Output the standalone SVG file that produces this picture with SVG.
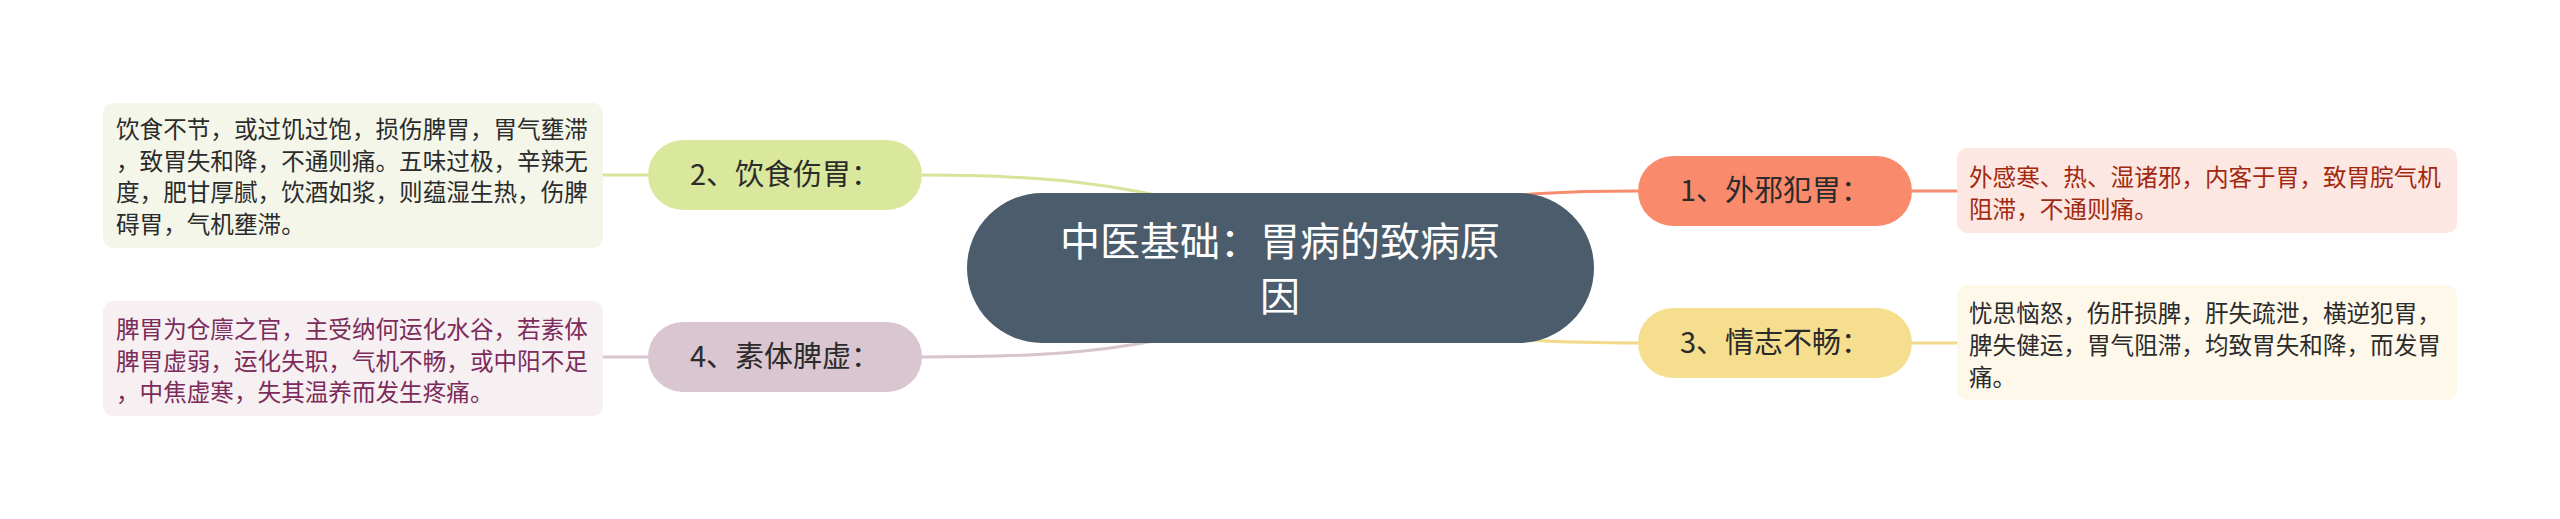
<svg xmlns="http://www.w3.org/2000/svg" width="2560" height="519" viewBox="0 0 2560 519">
<style>
text{font-family:"Noto Sans CJK SC","Noto Sans",sans-serif;}
.lf{font-size:23.6px;}
.br{font-size:29px;fill:#2b2b2b;text-anchor:middle;}
.ct{font-size:40px;fill:#ffffff;text-anchor:middle;}
.c{fill:none;stroke-width:3;}
</style>
<rect width="2560" height="519" fill="#ffffff"/>
<g id="connectors">
<path class="c" stroke="#F68B6E" d="M1280,268 C1400,200 1500,191 1638,191"/>
<path class="c" stroke="#F68B6E" d="M1912,191 L1957,191"/>
<path class="c" stroke="#F3DA8A" d="M1280,268 C1400,336 1500,343 1638,343"/>
<path class="c" stroke="#F3DA8A" d="M1912,343 L1957,343"/>
<path class="c" stroke="#D6E59A" d="M922,175 C1050,175 1120,185 1200,205"/>
<path class="c" stroke="#D6E59A" d="M603,175 L648,175"/>
<path class="c" stroke="#D7C4CE" d="M922,357 C1050,357 1120,351 1200,331"/>
<path class="c" stroke="#D7C4CE" d="M603,357 L648,357"/>
</g>
<g id="center">
<rect x="967" y="193" width="627" height="150" rx="75" fill="#4B5D6C"/>
<text class="ct" x="1280" y="256">中医基础：胃病的致病原</text>
<text class="ct" x="1280" y="311">因</text>
</g>
<g id="node1">
<rect x="1638" y="156" width="274" height="70" rx="35" fill="#F98A6C"/>
<text class="br" x="1775" y="201">1、外邪犯胃：</text>
</g>
<g id="node3">
<rect x="1638" y="308" width="274" height="70" rx="35" fill="#F6DE8F"/>
<text class="br" x="1775" y="353">3、情志不畅：</text>
</g>
<g id="node2">
<rect x="648" y="140" width="274" height="70" rx="35" fill="#D9E89C"/>
<text class="br" x="785" y="185">2、饮食伤胃：</text>
</g>
<g id="node4">
<rect x="648" y="322" width="274" height="70" rx="35" fill="#D9C6D0"/>
<text class="br" x="785" y="367">4、素体脾虚：</text>
</g>
<g id="leaf1">
<rect x="1957" y="148" width="500" height="85" rx="10" fill="#FDE7E2"/>
<text class="lf" fill="#A2290F"><tspan x="1969" y="186">外感寒、热、湿诸邪，内客于胃，致胃脘气机</tspan><tspan x="1969" y="218">阻滞，不通则痛。</tspan></text>
</g>
<g id="leaf3">
<rect x="1957" y="285" width="500" height="115" rx="10" fill="#FEF8EA"/>
<text class="lf" fill="#2b2b2b"><tspan x="1969" y="322">忧思恼怒，伤肝损脾，肝失疏泄，横逆犯胃，</tspan><tspan x="1969" y="354">脾失健运，胃气阻滞，均致胃失和降，而发胃</tspan><tspan x="1969" y="386">痛。</tspan></text>
</g>
<g id="leaf2">
<rect x="103" y="103" width="500" height="145" rx="10" fill="#F4F6EA"/>
<text class="lf" fill="#2b2b2b"><tspan x="116" y="138">饮食不节，或过饥过饱，损伤脾胃，胃气壅滞</tspan><tspan x="116" y="170">，致胃失和降，不通则痛。五味过极，辛辣无</tspan><tspan x="116" y="201">度，肥甘厚腻，饮酒如浆，则蕴湿生热，伤脾</tspan><tspan x="116" y="233">碍胃，气机壅滞。</tspan></text>
</g>
<g id="leaf4">
<rect x="103" y="301" width="500" height="115" rx="10" fill="#F6F0F2"/>
<text class="lf" fill="#7C2B5B"><tspan x="116" y="338">脾胃为仓廪之官，主受纳何运化水谷，若素体</tspan><tspan x="116" y="370">脾胃虚弱，运化失职，气机不畅，或中阳不足</tspan><tspan x="116" y="401">，中焦虚寒，失其温养而发生疼痛。</tspan></text>
</g>
</svg>
